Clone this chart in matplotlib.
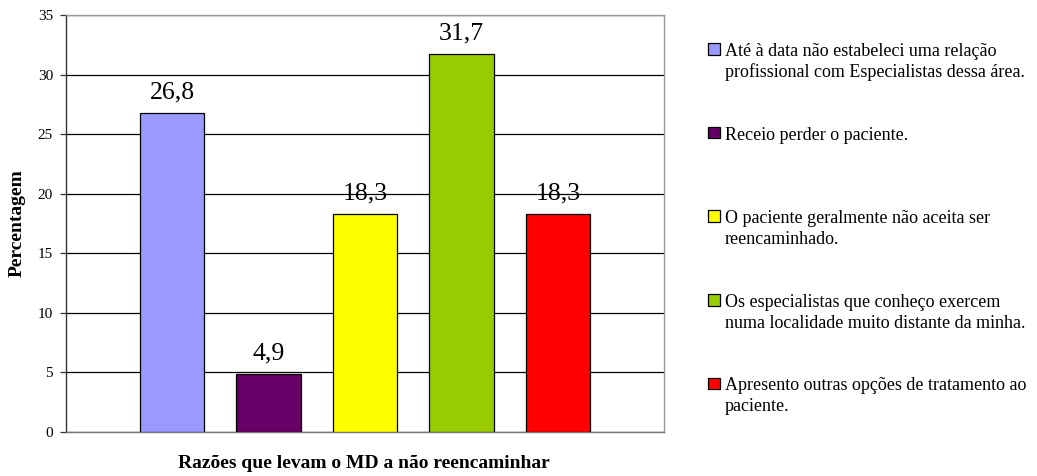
import matplotlib
matplotlib.use("Agg")
import matplotlib.pyplot as plt
from matplotlib.patches import Rectangle

plt.rcParams['font.family'] = ['Liberation Serif', 'DejaVu Serif']

# ---- data ----
labels = [
    "Até à data não estabeleci uma relação\nprofissional com Especialistas dessa área.",
    "Receio perder o paciente.",
    "O paciente geralmente não aceita ser\nreencaminhado.",
    "Os especialistas que conheço exercem\nnuma localidade muito distante da minha.",
    "Apresento outras opções de tratamento ao\npaciente.",
]
values = [26.8, 4.9, 18.3, 31.7, 18.3]
value_texts = ["26,8", "4,9", "18,3", "31,7", "18,3"]
colors = ["#9999FF", "#660066", "#FFFF00", "#99CC00", "#FF0000"]
yticks = [0, 5, 10, 15, 20, 25, 30, 35]
xlabel = "Razões que levam o MD a não reencaminhar"
ylabel = "Percentagem"

W, H = 1037, 476
fig = plt.figure(figsize=(W / 100, H / 100), dpi=100)
fig.patch.set_facecolor("white")

ax_l, ax_r, ax_t, ax_b = 66, 664, 15, 432
ax = fig.add_axes([ax_l / W, 1 - ax_b / H, (ax_r - ax_l) / W, (ax_b - ax_t) / H])

x = list(range(len(values)))
bars = ax.bar(x, values, width=0.667, color=colors, edgecolor="black",
              linewidth=0.9, zorder=3)

for xi, v, t in zip(x, values, value_texts):
    ax.annotate(t, xy=(xi, v), xytext=(0, 10.5), textcoords="offset points",
                ha="center", va="baseline", fontsize=18.5, color="black", zorder=4)

ax.set_xlim(-1.1, 5.1)
ax.set_ylim(0, 35)
ax.set_yticks(yticks)
ax.set_yticklabels([str(t) for t in yticks], fontsize=11)
ax.set_xticks([])
ax.yaxis.grid(True, color="black", linewidth=0.9, zorder=0)
ax.set_axisbelow(True)
ax.tick_params(axis="y", direction="out", length=4.3, width=0.9,
               color="#333333", pad=5)

ax.spines["left"].set_color("#333333")
ax.spines["left"].set_linewidth(1.0)
ax.spines["bottom"].set_color("#777777")
ax.spines["bottom"].set_linewidth(1.0)
for s in ("top", "right"):
    ax.spines[s].set_color("#9a9a9a")
    ax.spines[s].set_linewidth(1.0)

fig.text(17.5 / W, 1 - 223 / H, ylabel, rotation=90, ha="center", va="center",
         fontsize=14, fontweight="bold")
fig.text(364 / W, 1 - 468 / H, xlabel, ha="center", va="baseline",
         fontsize=14, fontweight="bold")

# ---- legend ----
sq = 11.5
centers = [49 + 83.6 * i for i in range(len(labels))]
for lab, col, yc in zip(labels, colors, centers):
    fig.patches.append(Rectangle((708 / W, 1 - (yc + sq / 2) / H), sq / W, sq / H,
                                 facecolor=col, edgecolor="black", linewidth=0.9,
                                 transform=fig.transFigure, figure=fig))
    for j, line in enumerate(lab.split("\n")):
        fig.text(725 / W, 1 - (yc + 7 + 21 * j) / H, line, ha="left",
                 va="baseline", fontsize=13)

fig.savefig("out.png", dpi=100, facecolor="white")
